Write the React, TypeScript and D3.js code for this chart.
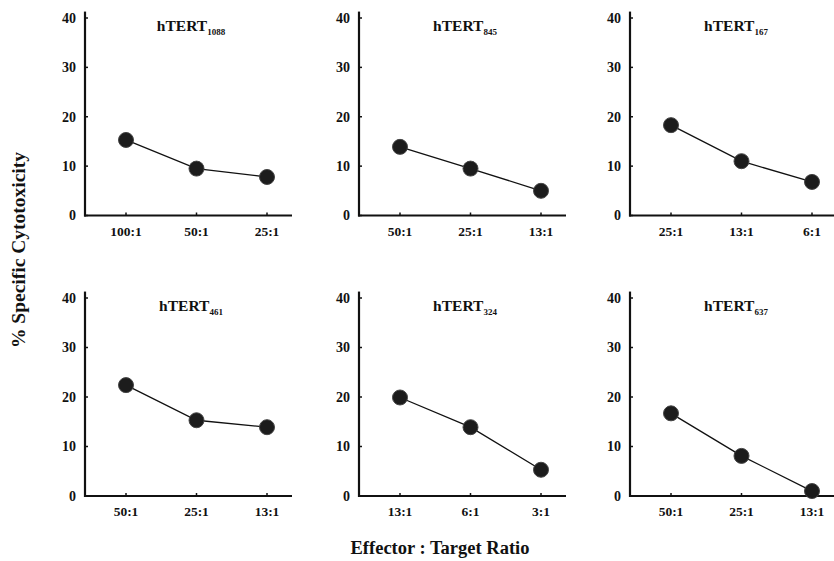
import * as d3 from "d3";
import { useEffect, useRef } from "react";

// peptide names (subscript part of the title)
const peptides = ["1088", "845", "167", "461", "324", "637"];

// E:T ratios per panel
const ratios = [
  ["100:1", "50:1", "25:1"],
  ["50:1", "25:1", "13:1"],
  ["25:1", "13:1", "6:1"],
  ["50:1", "25:1", "13:1"],
  ["13:1", "6:1", "3:1"],
  ["50:1", "25:1", "13:1"],
];

// % specific cytotoxicity per panel
const lysis = [
  [15.3, 9.5, 7.8],
  [13.9, 9.5, 5.0],
  [18.3, 11.0, 6.8],
  [22.4, 15.3, 13.9],
  [19.9, 13.9, 5.3],
  [16.7, 8.1, 1.0],
];

const yTicks = [0, 10, 20, 30, 40];

const FONT = "'Liberation Serif', 'Times New Roman', serif";

const App = () => {
  const ref = useRef<HTMLDivElement>(null);

  useEffect(() => {
    d3.select(ref.current).select("svg").remove();

    const W = 834, H = 561;
    const svg = d3
      .select(ref.current)
      .append("svg")
      .attr("width", W)
      .attr("height", H)
      .style("position", "absolute")
      .style("left", 0)
      .style("top", 0)
      .style("font-family", FONT)
      .style("font-weight", "bold");

    // panel grid: left edge of y axis and baseline of each row
    const colX = [85, 359, 630];
    const rows = [
      { bottom: 215.5, top: 18 },
      { bottom: 496, top: 298 },
    ];
    const axisW = 207;

    peptides.forEach((pep, i) => {
      const cx = colX[i % 3];
      const row = rows[Math.floor(i / 3)];

      const g = svg.append("g").attr("transform", `translate(${cx},0)`);

      const y = d3.scaleLinear().domain([0, 40]).range([row.bottom, row.top]);
      const x = d3.scalePoint().domain(ratios[i]).range([41, 182]);

      // y axis
      g.append("line")
        .attr("x1", 0).attr("x2", 0)
        .attr("y1", y(0) + 1).attr("y2", y(41.3))
        .attr("stroke", "#111").attr("stroke-width", 2.2);
      const yt = g.selectAll(".yt").data(yTicks).join("g")
        .attr("transform", (d) => `translate(0,${y(d)})`);
      yt.append("line").attr("x1", 0).attr("x2", 3)
        .attr("stroke", "#111").attr("stroke-width", 1.5);
      yt.append("text")
        .attr("x", -9).attr("dy", "0.35em")
        .attr("text-anchor", "end")
        .attr("font-size", 14)
        .attr("fill", "#111")
        .text((d) => d);

      // x axis
      g.append("line")
        .attr("x1", -1).attr("x2", axisW)
        .attr("y1", y(0)).attr("y2", y(0))
        .attr("stroke", "#111").attr("stroke-width", 2.2);
      const xt = g.selectAll(".xt").data(ratios[i]).join("g")
        .attr("transform", (d) => `translate(${x(d)},${y(0)})`);
      xt.append("line").attr("y1", 0).attr("y2", -3)
        .attr("stroke", "#111").attr("stroke-width", 1.5);
      xt.append("text")
        .attr("y", 20)
        .attr("text-anchor", "middle")
        .attr("font-size", 13.5)
        .attr("fill", "#111")
        .text((d) => d);

      // title
      const title = g.append("text")
        .attr("x", 106).attr("y", row.top + 13)
        .attr("text-anchor", "middle")
        .attr("font-size", 15.5)
        .attr("fill", "#111");
      title.append("tspan").text("hTERT");
      title.append("tspan").attr("font-size", 9).attr("dy", 4).text(pep);

      // data
      const pts = ratios[i].map((r, j) => ({ r, v: lysis[i][j] }));
      const line = d3.line<{ r: string; v: number }>()
        .x((d) => x(d.r) as number)
        .y((d) => y(d.v));
      g.append("path")
        .datum(pts)
        .attr("d", line)
        .attr("fill", "none")
        .attr("stroke", "#111")
        .attr("stroke-width", 1.3);
      g.selectAll(".pt").data(pts).join("circle")
        .attr("cx", (d) => x(d.r) as number)
        .attr("cy", (d) => y(d.v))
        .attr("r", 7.5)
        .attr("fill", "#1c1c1c")
        .attr("stroke", "#444")
        .attr("stroke-width", 1);
    });

    // axis titles
    svg.append("text")
      .attr("transform", "translate(25,250) rotate(-90)")
      .attr("text-anchor", "middle")
      .attr("font-size", 19.5)
      .attr("fill", "#111")
      .text("% Specific Cytotoxicity");

    svg.append("text")
      .attr("x", 440).attr("y", 554)
      .attr("text-anchor", "middle")
      .attr("font-size", 18.5)
      .attr("fill", "#111")
      .text("Effector : Target Ratio");
  }, []);

  return <div ref={ref} />;
};

export default App;
